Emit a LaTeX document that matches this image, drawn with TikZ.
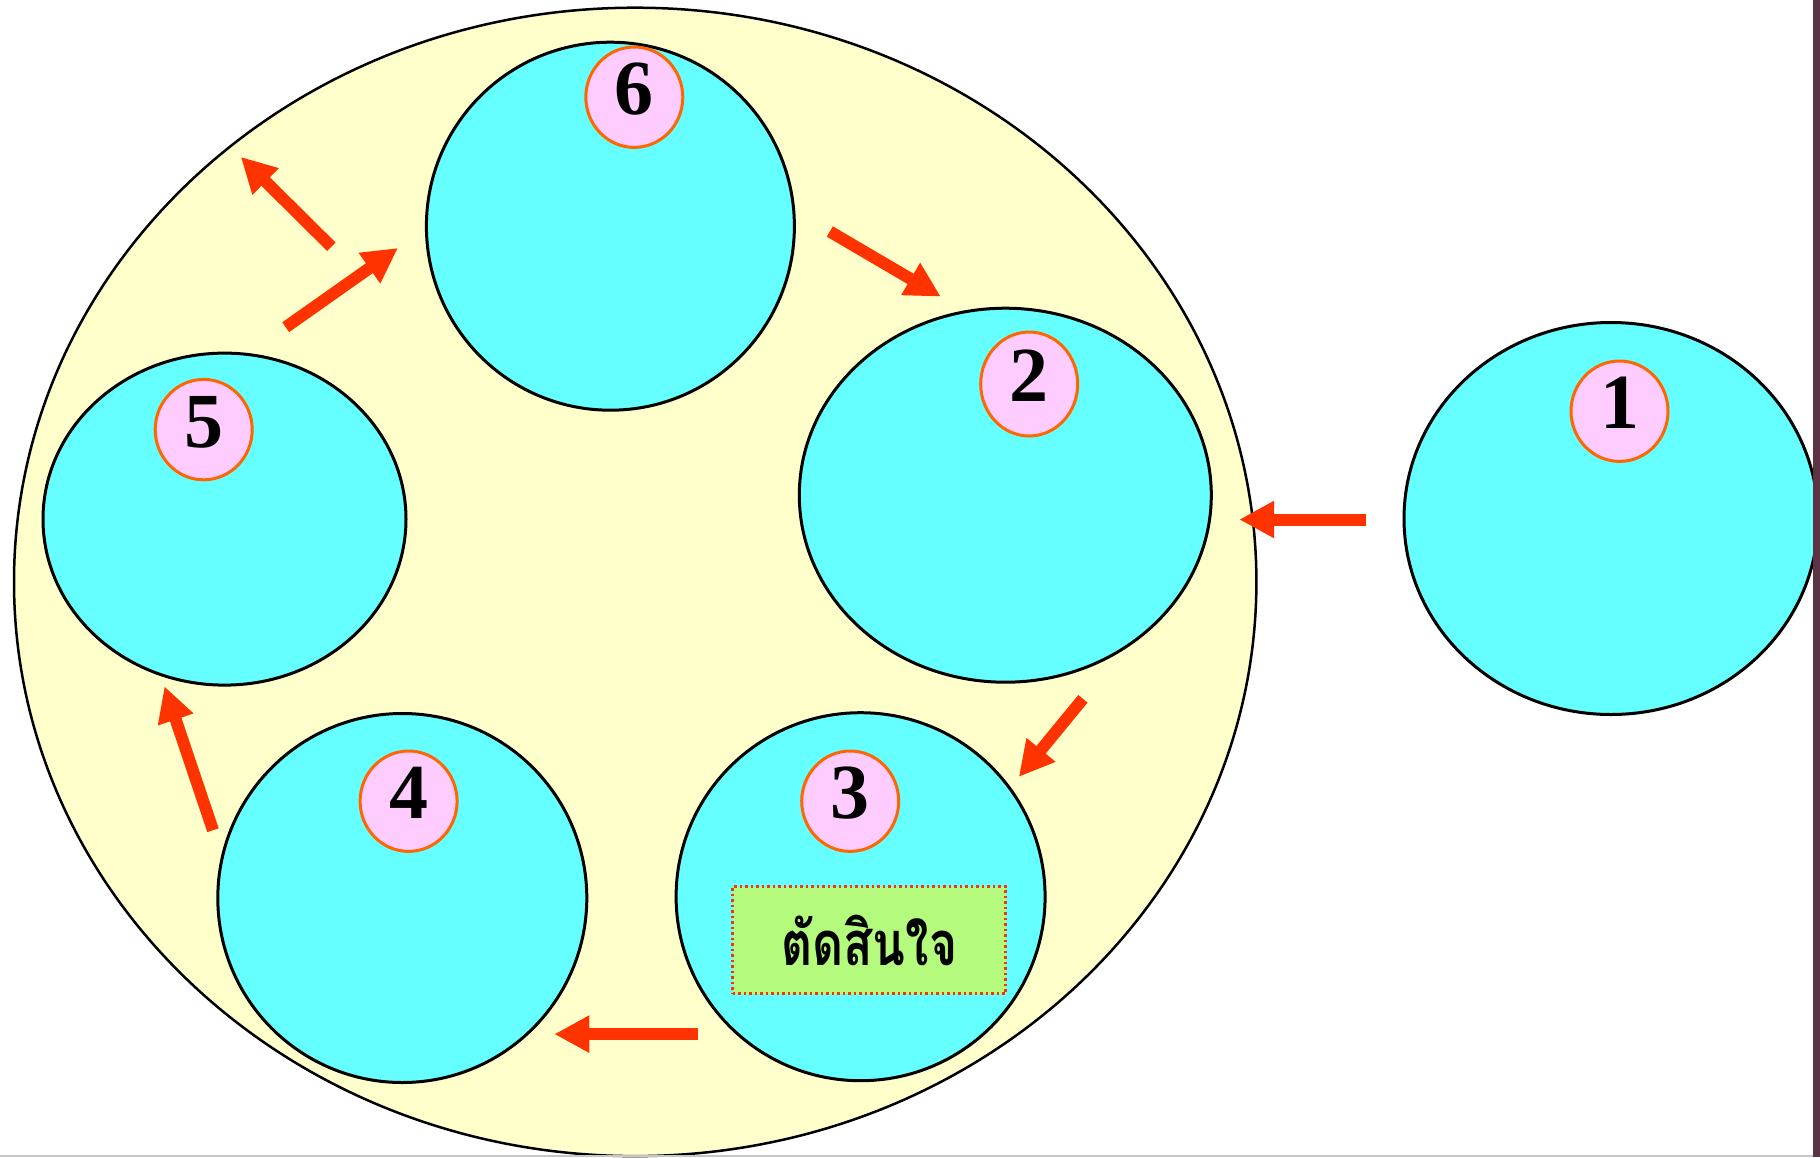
\documentclass[tikz,border=0pt]{standalone}
\usepackage{fontspec}
\setmainfont{Liberation Serif}
\newfontfamily\thaifont[Script=Thai]{Loma}
\usetikzlibrary{shapes.geometric, arrows.meta}
\definecolor{ringyellow}{HTML}{FFFFCC}
\definecolor{stagecyan}{HTML}{66FFFF}
\definecolor{tagpink}{HTML}{FFCCFF}
\definecolor{tagorange}{HTML}{FF6600}
\definecolor{flowred}{HTML}{FF3300}
\definecolor{notegreen}{HTML}{B4FA7D}
\definecolor{edgemaroon}{HTML}{5B3344}

\tikzset{
    stage/.style={ellipse, draw=black, line width=3pt, fill=stagecyan, inner sep=0pt, outer sep=0pt},
    tag/.style={ellipse, draw=tagorange, line width=3pt, fill=tagpink, inner sep=0pt,
        minimum width=97pt, minimum height=97pt, text height=53pt, text depth=18pt,
        font=\fontsize{78}{78}\selectfont\bfseries},
    flow/.style={-{Triangle[width=35pt, length=35pt]}, line width=12pt, flowred},
    note/.style={draw=flowred, fill=notegreen, line width=3pt, dash pattern=on 2.5pt off 3pt,
        minimum width=273pt, minimum height=107pt, inner sep=0pt,
        font=\fontsize{48}{48}\selectfont\thaifont\bfseries}
}

\begin{document}
\begin{tikzpicture}[x=1pt, y=-1pt]
    \useasboundingbox (0,0) rectangle (1820,1157);
    % Big yellow ring holding the cycle
    \draw[fill=ringyellow, line width=2.5pt] (635.2,581.9) ellipse [x radius=621.2, y radius=574.2];
    % === Stages ===
    \node[stage, minimum width=368pt, minimum height=368pt] (s6) at (610.4,226.2) {};
    \node[stage, minimum width=412pt, minimum height=374pt] (s2) at (1005.3,495.2) {};
    \node[stage, minimum width=414pt, minimum height=392pt] (s1) at (1611,518.5) {};
    \node[stage, minimum width=369pt, minimum height=368pt] (s3) at (860.6,896.7) {};
    \node[stage, minimum width=369pt, minimum height=369pt] (s4) at (402.3,898) {};
    \node[stage, minimum width=363pt, minimum height=332pt] (s5) at (224.5,519.1) {};
    % Numbers
    \node[tag] (t1) at (1619.5,411.2) {1};
    \node[tag, minimum height=104pt] (t2) at (1029.2,384) {2};
    \node[tag] (t3) at (850.2,801.2) {3};
    \node[tag] (t4) at (408.6,801.2) {4};
    \node[tag, minimum height=100pt] (t5) at (203.7,429.6) {5};
    \node[tag, minimum height=91pt] (t6) at (634.3,97.2) {6};
    % Decision box
    \node[note] (decide) at (869.4,940.3) {\scalebox{1}[1.28]{ตัดสินใจ}};
    % === Arrows ===
    \coordinate (f12a) at (1366,519.5);   \coordinate (f12b) at (1239.2,519.5);
    \coordinate (f23a) at (1082.9,698.8); \coordinate (f23b) at (1018.8,776.9);
    \coordinate (f34a) at (698,1034.1);   \coordinate (f34b) at (554.3,1034.1);
    \coordinate (f45a) at (213,830.2);    \coordinate (f45b) at (164.5,686.3);
    \coordinate (f56a) at (285.7,327.2);  \coordinate (f56b) at (398,248);
    \coordinate (f5xa) at (331.4,246.8);  \coordinate (f5xb) at (240.8,156.9);
    \coordinate (f62a) at (829.8,231.5);  \coordinate (f62b) at (940.8,296.6);
    \foreach \f in {f12, f23, f34, f45, f56, f5x, f62} {
        \draw[flow] (\f a) -- (\f b);
    }
    % Window edges
    \fill[gray!45] (0,1155) rectangle (1813,1157);
    \fill[edgemaroon] (1813,0) rectangle (1820,1157);
\end{tikzpicture}
\end{document}
